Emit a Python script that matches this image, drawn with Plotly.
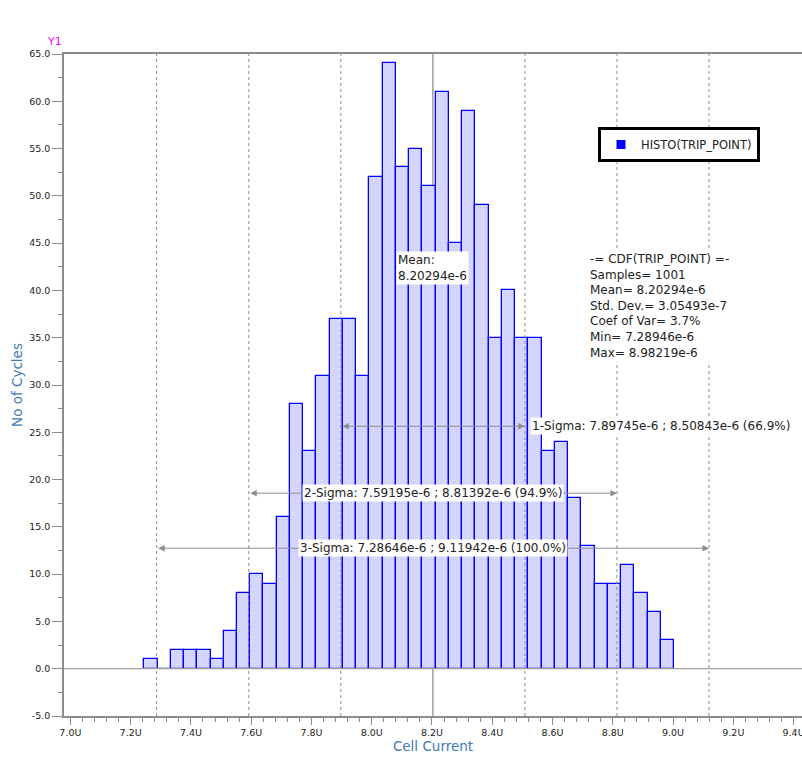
import plotly.graph_objects as go

# ---------------- data ----------------
counts = [1, 0, 2, 2, 2, 1, 4, 8, 10, 9, 16, 28, 23, 31, 37, 37, 31, 52, 64, 53,
          55, 51, 61, 45, 59, 49, 35, 40, 35, 35, 23, 24, 18, 13, 9, 9, 11, 8, 6, 3]
bin_start = 7.2453      # U (micro-amps)
bin_width = 0.04395     # U

mean_val = 8.20294
sigma_names = ["1-Sigma", "2-Sigma", "3-Sigma"]
sigma_lo = [7.89745, 7.59195, 7.28646]
sigma_hi = [8.50843, 8.81392, 9.11942]
sigma_pct = ["66.9%", "94.9%", "100.0%"]
sigma_arrow_y = [25.64, 18.56, 12.74]

stats_lines = ["-= CDF(TRIP_POINT) =-", "Samples= 1001", "Mean= 8.20294e-6",
               "Std. Dev.= 3.05493e-7", "Coef of Var= 3.7%", "Min= 7.28946e-6",
               "Max= 8.98219e-6"]

x_ticks = [7.0, 7.2, 7.4, 7.6, 7.8, 8.0, 8.2, 8.4, 8.6, 8.8, 9.0, 9.2, 9.4]
x_ticktext = [f"{v:.1f}U" for v in x_ticks]
y_ticks = [-5, 0, 5, 10, 15, 20, 25, 30, 35, 40, 45, 50, 55, 60, 65]
y_ticktext = [f"{v:.1f}" for v in y_ticks]

centers = [bin_start + (i + 0.5) * bin_width for i in range(len(counts))]

FONT = "DejaVu Sans"
BLUE = "#0000ff"
GRAY = "#8c8c8c"
TXT = "#222222"

W, H = 802, 761
ML, MR, MT, MB = 64, 0, 54, 45
pw, ph = W - ML - MR, H - MT - MB

fig = go.Figure()
fig.add_trace(go.Bar(
    x=centers, y=counts, width=bin_width,
    marker=dict(color="white",
                line=dict(color=BLUE, width=1.3),
                pattern=dict(shape=".", fgcolor="#5a5aff", bgcolor="white",
                             size=2, solidity=0.6, fillmode="overlay")),
    showlegend=False, hoverinfo="x+y",
))
# legend entry (solid blue marker as in the reference)
fig.add_trace(go.Scatter(
    x=[None], y=[None], mode="markers", name="HISTO(TRIP_POINT)",
    marker=dict(symbol="square", size=9, color=BLUE),
))

shapes = []
for v in sigma_lo + sigma_hi:
    shapes.append(dict(type="line", xref="x", yref="paper", x0=v, x1=v, y0=0, y1=1,
                       line=dict(color=GRAY, width=1, dash="3px,3px"), layer="above"))
shapes.append(dict(type="line", xref="x", yref="paper", x0=mean_val, x1=mean_val,
                   y0=0, y1=1, line=dict(color="#a0a0a0", width=1.5), layer="below"))
shapes.append(dict(type="line", xref="paper", yref="y", x0=0, x1=1, y0=0, y1=0,
                   line=dict(color="#a0a0a0", width=1.2), layer="above"))

annotations = []
for name, lo, hi, pct, ay in zip(sigma_names, sigma_lo, sigma_hi, sigma_pct, sigma_arrow_y):
    annotations.append(dict(
        x=hi, y=ay, ax=lo, ay=ay, xref="x", yref="y", axref="x", ayref="y",
        text="", showarrow=True, arrowside="end+start", arrowhead=2,
        arrowsize=1.3, arrowwidth=1, arrowcolor=GRAY, standoff=0, startstandoff=0))
    label = f"{name}: {lo}e-6 ; {hi}e-6 ({pct})"
    if name == "1-Sigma":
        annotations.append(dict(x=hi, y=ay, xref="x", yref="y", text=label,
                                showarrow=False, xanchor="left", xshift=5,
                                bgcolor="white", borderpad=1,
                                font=dict(family=FONT, size=12, color=TXT)))
    else:
        annotations.append(dict(x=(lo + hi) / 2, y=ay, xref="x", yref="y", text=label,
                                showarrow=False, xanchor="center",
                                bgcolor="white", borderpad=1,
                                font=dict(family=FONT, size=12, color=TXT)))

annotations.append(dict(x=mean_val, y=42.4, xref="x", yref="y",
                        text=f"Mean:<br>{mean_val}e-6", align="left",
                        showarrow=False, xanchor="center", bgcolor="white", borderpad=1,
                        font=dict(family=FONT, size=12, color=TXT)))

annotations.append(dict(x=(588 - ML) / pw, y=(H - MB - 250) / ph, xref="paper", yref="paper",
                        text="<br>".join(stats_lines), align="left",
                        showarrow=False, xanchor="left", yanchor="top",
                        bgcolor="white", borderpad=1,
                        font=dict(family=FONT, size=12, color=TXT)))

annotations.append(dict(x=(54 - ML) / pw, y=(H - MB - 41) / ph, xref="paper", yref="paper",
                        text="Y1", showarrow=False, xanchor="center", yanchor="middle",
                        font=dict(family=FONT, size=11, color="#ff00ff")))

fig.update_layout(
    width=W, height=H,
    margin=dict(l=ML, r=MR, t=MT, b=MB, autoexpand=False),
    paper_bgcolor="white", plot_bgcolor="white",
    bargap=0,
    font=dict(family=FONT, size=10, color=TXT),
    shapes=shapes,
    annotations=annotations,
    legend=dict(x=(598 - ML) / pw, y=(H - MB - 127) / ph, xanchor="left", yanchor="top",
                bgcolor="white", bordercolor="black", borderwidth=3,
                font=dict(family=FONT, size=11.5, color=TXT),
                itemwidth=30),
    xaxis=dict(range=[6.9788, 9.428], tickvals=x_ticks, ticktext=x_ticktext,
               showgrid=False, zeroline=False, showline=True, linecolor=GRAY,
               linewidth=1.5, mirror=True, ticks="outside", ticklen=7, tickcolor=GRAY,
               ticklabeloverflow="allow",
               tickfont=dict(family=FONT, size=9.5, color=TXT),
               minor=dict(ticks="outside", ticklen=4, tickcolor=GRAY, dtick=0.04, tick0=7.0),
               title=dict(text="Cell Current", standoff=2,
                          font=dict(family=FONT, size=13.5, color="#3d7ab8"))),
    yaxis=dict(range=[-5, 65], tickvals=y_ticks, ticktext=y_ticktext,
               showgrid=False, zeroline=False, showline=True, linecolor=GRAY,
               linewidth=1.5, ticks="outside", ticklen=10, tickcolor=GRAY,
               tickfont=dict(family=FONT, size=9.5, color=TXT),
               minor=dict(ticks="outside", ticklen=4, tickcolor=GRAY, dtick=2.5, tick0=0),
               title=dict(text="No of Cycles", standoff=3,
                          font=dict(family=FONT, size=13.5, color="#3d7ab8"))),
)

fig.write_html("out.html", config={"displayModeBar": False},
               post_script="document.body.style.margin='0';document.body.style.overflow='hidden';")
